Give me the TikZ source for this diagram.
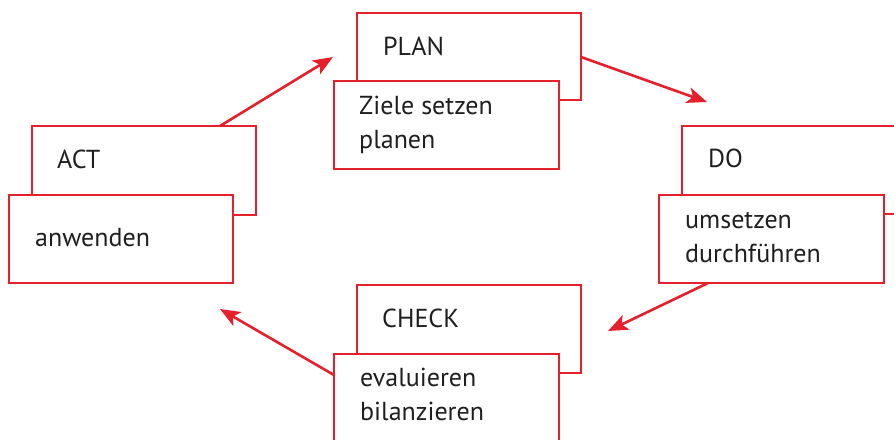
\documentclass[tikz,border=0pt]{standalone}
\usepackage{fontspec}
\setmainfont{PT Sans}
\usetikzlibrary{arrows.meta,calc}
\definecolor{pdcared}{RGB}{230,32,42}
\tikzset{
  box/.style={draw=pdcared, line width=2.6pt, fill=white, anchor=north west, inner sep=0pt, outer sep=0pt},
  lbl/.style={anchor=base west, inner sep=0pt, text=black!88, font=\fontsize{26}{33.5}\selectfont, align=left},
  conn/.style={draw=pdcared, line width=2.6pt, -{Stealth[length=20pt,width=16pt,inset=5pt]}}
}
\begin{document}
\begin{tikzpicture}[x=1pt,y=-1pt]
\useasboundingbox (0,0) rectangle (894,439);
% PLAN
\node[box, minimum width=224pt, minimum height=87pt] (planB) at (357,13) {};
\node[box, minimum width=225pt, minimum height=88pt] (planF) at (334,81) {};
\node[lbl] (planL) at (383,55) {PLAN};
\node[lbl] (planT) at (359,148) {Ziele setzen\\planen};
% DO
\node[box, minimum width=240pt, minimum height=88pt] (doB) at (682,126) {};
\node[box, minimum width=225pt, minimum height=88pt] (doF) at (659,195) {};
\node[lbl] (doL) at (708,167) {DO};
\node[lbl] (doT) at (685,262) {umsetzen\\durchführen};
% CHECK
\node[box, minimum width=224pt, minimum height=88pt] (checkB) at (357,285) {};
\node[box, minimum width=225pt, minimum height=100pt] (checkF) at (334,354) {};
\node[lbl] (checkL) at (382,327) {CHECK};
\node[lbl] (checkT) at (360,420) {evaluieren\\bilanzieren};
% ACT
\node[box, minimum width=224pt, minimum height=89pt] (actB) at (32,126) {};
\node[box, minimum width=224pt, minimum height=88pt] (actF) at (9,195) {};
\node[lbl] (actL) at (57,168) {ACT};
\node[lbl] (actT) at (35,246) {anwenden};
% connectors
\coordinate (e1) at (333,57);
\coordinate (e2) at (707,102);
\coordinate (e3) at (608,331);
\coordinate (e4) at (220,309);
\draw[conn] ($(actB.north west)+(188,0)$) -- (e1);
\draw[conn] ($(planB.north east)+(0,44)$) -- (e2);
\draw[conn] ($(doF.south west)+(49,0)$) -- (e3);
\draw[conn] ($(checkF.north west)+(0,21)$) -- (e4);
\end{tikzpicture}
\end{document}
